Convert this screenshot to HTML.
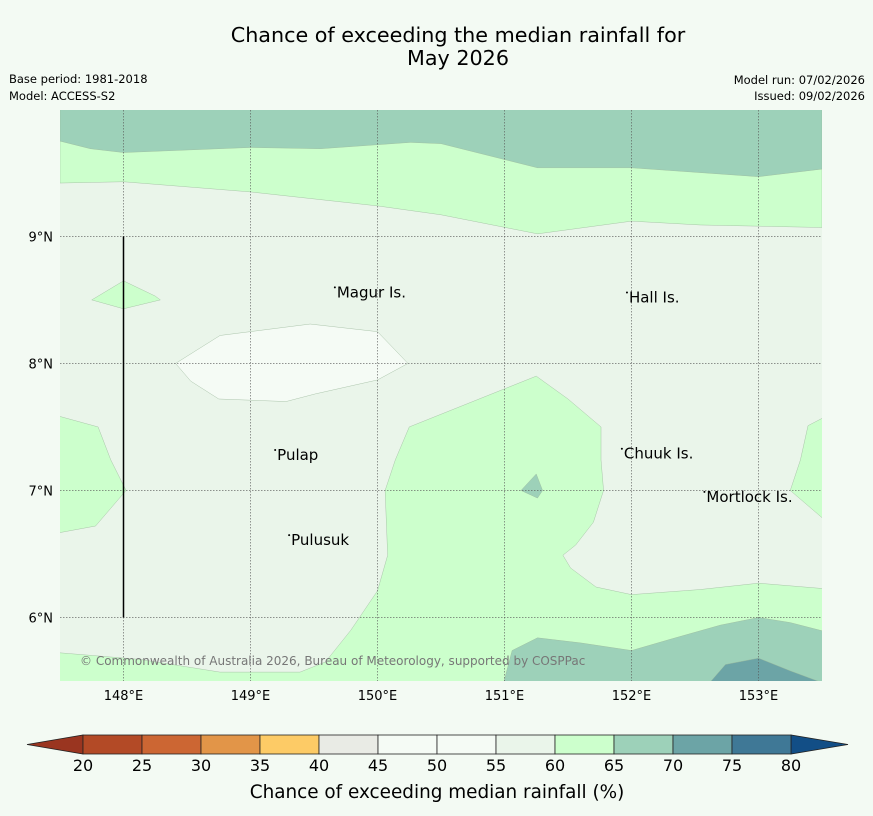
<!DOCTYPE html>
<html><head><meta charset="utf-8"><style>
html,body{margin:0;padding:0;background:#f3faf3;overflow:hidden;width:873px;height:816px;}
svg{display:block;}
svg text{font-family:"DejaVu Sans","Liberation Sans",sans-serif;}
</style></head><body>
<svg width="873" height="816" viewBox="0 0 873 816" xmlns="http://www.w3.org/2000/svg">
<rect width="873" height="816" fill="#f3faf3"/>
<text x="458" y="42" font-size="20.7" text-anchor="middle">Chance of exceeding the median rainfall for</text>
<text x="458" y="65" font-size="20.7" text-anchor="middle">May 2026</text>
<text x="9" y="83" font-size="11.5">Base period: 1981-2018</text>
<text x="9" y="100" font-size="11.5">Model: ACCESS-S2</text>
<text x="865" y="84" font-size="11.5" text-anchor="end">Model run: 07/02/2026</text>
<text x="865" y="100" font-size="11.5" text-anchor="end">Issued: 09/02/2026</text>
<defs><clipPath id="mc"><rect x="60" y="110" width="762" height="571"/></clipPath></defs>
<g id="map" clip-path="url(#mc)"></g>
<g id="axes"></g>
<g id="cbar"></g>
<text x="437" y="798" font-size="18.4" text-anchor="middle">Chance of exceeding median rainfall (%)</text>
</svg>
<script>
const lonTicks=[148,149,150,151,152,153];
const latTicks=[6,7,8,9];
const lonMin=147.5, lonMax=153.5, latMin=5.5, latMax=9.995;
const cbarLevels=[20,25,30,35,40,45,50,55,60,65,70,75,80];
const cbarColors=["#b34a26","#cc6633","#e29548","#fdcb66","#e9ebe5","#f5fbf5","#f5fbf5","#eaf5ea","#ccffcc","#9dd1b9","#6ca4a6","#3f7896"];
const regionTopGreen=[[147.5,10.1],[153.5,10.1],[153.5,9.07],[152.54,9.09],[152,9.12],[151.26,9.02],[150.5,9.17],[150,9.24],[149,9.35],[148,9.43],[147.5,9.42]];
const regionTopTeal=[[147.5,10.1],[153.5,10.1],[153.5,9.53],[153,9.47],[152,9.54],[151.26,9.54],[150.5,9.73],[150.26,9.74],[149.55,9.69],[149,9.70],[148,9.66],[147.74,9.69],[147.5,9.75]];
const regionBlob=[[147.75,8.50],[148,8.65],[148.25,8.53],[148.29,8.50],[148,8.43]];
const regionWhite=[[148.41,8.0],[148.76,8.22],[149.47,8.31],[150,8.25],[150.24,8.0],[150,7.87],[149.51,7.76],[149.28,7.70],[148.75,7.72],[148.53,7.86]];
const regionLeftGreen=[[147.4,7.61],[147.80,7.50],[147.90,7.24],[148.02,7.0],[147.90,6.86],[147.78,6.72],[147.4,6.65]];
const regionCentral=[[147.4,5.73],[148.13,5.67],[148.76,5.57],[149.39,5.57],[149.59,5.65],[149.79,5.90],[150.0,6.21],[150.08,6.49],[150.06,7.0],[150.14,7.24],[150.25,7.50],[151.25,7.90],[151.5,7.72],[151.76,7.50],[151.76,7.24],[151.78,7.0],[151.70,6.75],[151.56,6.57],[151.46,6.49],[151.52,6.39],[151.72,6.24],[152,6.18],[152.54,6.22],[153,6.27],[153.6,6.22],[153.6,5.4],[147.4,5.4]];
const regionRightGreen=[[153.6,7.62],[153.39,7.51],[153.33,7.24],[153.25,7.0],[153.6,6.70]];
const regionBottomTeal=[[150.97,5.4],[151.06,5.74],[151.26,5.84],[151.6,5.80],[152,5.74],[152.31,5.83],[152.70,5.94],[153,6.0],[153.25,5.96],[153.6,5.87],[153.6,5.4]];
const regionDarkTeal=[[152.54,5.4],[152.74,5.63],[153,5.68],[153.25,5.58],[153.6,5.45],[153.6,5.4]];
const regionDiamond=[[151.13,7.0],[151.25,7.13],[151.30,7.0],[151.26,6.94]];
const placeNames=["Magur Is.","Hall Is.","Pulap","Chuuk Is.","Mortlock Is.","Pulusuk"];
const placeLon=[149.68,151.98,149.21,151.94,152.59,149.32];
const placeLat=[8.52,8.48,7.24,7.25,6.91,6.57];

const NS="http://www.w3.org/2000/svg";
const X=l=>60+(l-lonMin)/(lonMax-lonMin)*762;
const Y=l=>110+(latMax-l)/(latMax-latMin)*571;
function mk(t,parent,attrs){const e=document.createElementNS(NS,t);for(const k in attrs)e.setAttribute(k,attrs[k]);parent.appendChild(e);return e;}
const map=document.getElementById('map');
let bg=mk('rect',map,{x:60,y:110,width:762,height:571,fill:'#eaf5ea'});


function poly(pts,fill,name){const p=mk('polygon',map,{points:pts.map(q=>X(q[0])+','+Y(q[1])).join(' '),fill:fill,stroke:'#9ab89a','stroke-width':0.4});

}
poly(regionTopGreen,'#ccffcc','contour-60-65-north');
poly(regionTopTeal,'#9dd1b9','contour-65-70-north');
poly(regionBlob,'#ccffcc','contour-60-65-blob');
poly(regionWhite,'#f5fbf5','contour-50-55');
poly(regionLeftGreen,'#ccffcc','contour-60-65-west');
poly(regionCentral,'#ccffcc','contour-60-65-central');
poly(regionRightGreen,'#ccffcc','contour-60-65-east');
poly(regionBottomTeal,'#9dd1b9','contour-65-70-south');
poly(regionDarkTeal,'#6ca4a6','contour-70-75-south');
poly(regionDiamond,'#9dd1b9','contour-65-70-small');
const ax=document.getElementById('axes');
lonTicks.forEach(l=>{let g=mk('line',ax,{x1:X(l),x2:X(l),y1:110,y2:681,stroke:'#555','stroke-width':0.6,'stroke-dasharray':'1.5,1.5'});


let t=mk('text',ax,{x:X(l),y:700,'font-size':13,'text-anchor':'middle'});t.textContent=l+'°E';

});
latTicks.forEach(l=>{let g=mk('line',ax,{x1:60,x2:822,y1:Y(l),y2:Y(l),stroke:'#555','stroke-width':0.6,'stroke-dasharray':'1.5,1.5'});


let t=mk('text',ax,{x:53,y:Y(l)+5,'font-size':13,'text-anchor':'end'});t.textContent=l+'°N';

});
let vl=mk('line',ax,{x1:X(148),x2:X(148),y1:Y(9),y2:Y(6),stroke:'#000','stroke-width':1.5});


placeNames.forEach((n,i)=>{let t=mk('text',ax,{x:X(placeLon[i]),y:Y(placeLat[i]),'font-size':15});t.textContent=n;


let d=mk('circle',ax,{cx:X(placeLon[i])-2,cy:Y(placeLat[i])-10,r:1,fill:'#000'});

});
let cp=mk('text',ax,{x:80,y:665,'font-size':12,fill:'#777'});cp.textContent='© Commonwealth of Australia 2026, Bureau of Meteorology, supported by COSPPac';


const cb=document.getElementById('cbar');
const cx0=83,cw=59,cy=735,ch=19;
let lt=mk('polygon',cb,{points:`${cx0},${cy} ${cx0},${cy+ch} 27,${cy+ch/2}`,fill:'#9a3520',stroke:'#222','stroke-width':0.8});


let rt=mk('polygon',cb,{points:`${cx0+12*cw},${cy} ${cx0+12*cw},${cy+ch} 848,${cy+ch/2}`,fill:'#124e86',stroke:'#222','stroke-width':0.8});


cbarColors.forEach((c,i)=>{let r=mk('rect',cb,{x:cx0+i*cw,y:cy,width:cw,height:ch,fill:c,stroke:'#222','stroke-width':0.8});

});
cbarLevels.forEach((v,i)=>{let t=mk('text',cb,{x:cx0+i*cw,y:771,'font-size':16,'text-anchor':'middle'});t.textContent=v;

});
</script>
</body></html>
